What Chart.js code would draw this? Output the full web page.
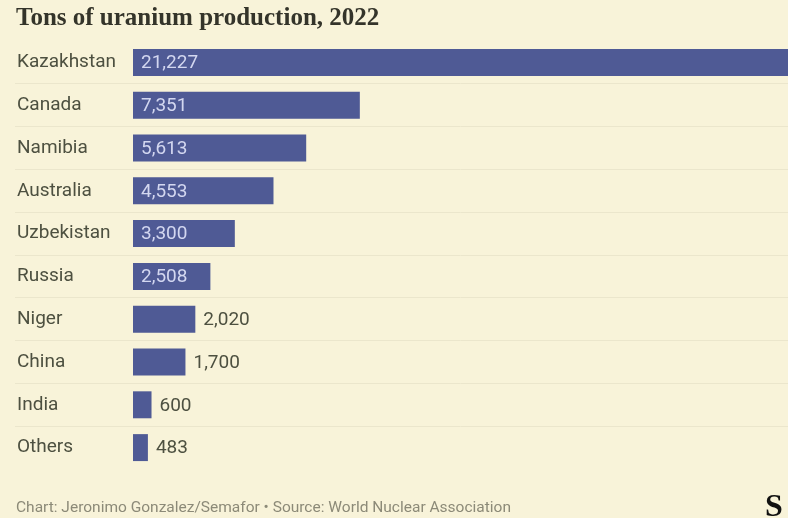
<!DOCTYPE html>
<html><head><meta charset="utf-8">
<script src="https://cdn.jsdelivr.net/npm/chart.js@4.4.0/dist/chart.umd.min.js"></script>
<style>
html,body{margin:0;padding:0;background:#f8f3d9;}
#wrap{position:relative;width:788px;height:518px;overflow:hidden;background:#f8f3d9;}
#title{position:absolute;left:16px;top:3px;font-family:"Liberation Serif",serif;font-size:25px;font-weight:bold;color:#34342a;}
#foot{position:absolute;left:16px;top:498px;font-family:Roboto,sans-serif;font-size:15.5px;color:#8c8a78;}
#logo{position:absolute;left:765px;top:487px;font-family:"Liberation Serif",serif;font-size:32px;font-weight:bold;color:#111;}
canvas{position:absolute;left:0;top:0;}
</style></head>
<body><div id="wrap">
<canvas id="c" width="788" height="518"></canvas>
<div id="title">Tons of uranium production, 2022</div>
<div id="foot">Chart: Jeronimo Gonzalez/Semafor • Source: World Nuclear Association</div>
<div id="logo">S</div>
</div>
<script>
const countries = ["Kazakhstan","Canada","Namibia","Australia","Uzbekistan","Russia","Niger","China","India","Others"];
const tons = [21227,7351,5613,4553,3300,2508,2020,1700,600,483];

const barColor = "#4f5a95";
const labelPlugin = {
  id: "valueLabels",
  afterDatasetsDraw(chart) {
    const ctx = chart.ctx;
    const meta = chart.getDatasetMeta(0);
    ctx.save();
    ctx.font = "19px Roboto";
    ctx.textBaseline = "middle";
    ctx.textAlign = "left";
    meta.data.forEach((bar, i) => {
      const v = tons[i];
      const txt = v.toLocaleString("en-US");
      if (v >= 2500) {
        ctx.fillStyle = "#d3d7f0";
        ctx.fillText(txt, bar.base + 8, bar.y + 1);
      } else {
        ctx.fillStyle = "#4d5040";
        ctx.fillText(txt, bar.x + 8, bar.y + 1);
      }
    });
    ctx.restore();
  }
};

new Chart(document.getElementById("c"), {
  type: "bar",
  data: { labels: countries, datasets: [{ data: tons, backgroundColor: barColor, borderWidth: 0, categoryPercentage: 1, barPercentage: 0.63 }] },
  options: {
    indexAxis: "y",
    responsive: false,
    animation: false,
    layout: { padding: { top: 41, bottom: 49, left: 17, right: 0 } },
    plugins: { legend: { display: false }, tooltip: { enabled: false }, title: { display: false } },
    scales: {
      x: { display: false, min: 0, max: 21227 },
      y: {
        border: { display: false },
        afterFit(scale) { scale.width = 116; },
        grid: {
          offset: true,
          drawOnChartArea: true,
          tickLength: 118,
          lineWidth: 1,
          color: (c) => (c.type !== "tick" || c.index === 0) ? "rgba(0,0,0,0)" : "#ebe6cc"
        },
        ticks: { crossAlign: "far", color: "#4d5040", font: { family: "Roboto", size: 19 }, padding: 0 }
      }
    }
  },
  plugins: [labelPlugin]
});
</script>
</body></html>
